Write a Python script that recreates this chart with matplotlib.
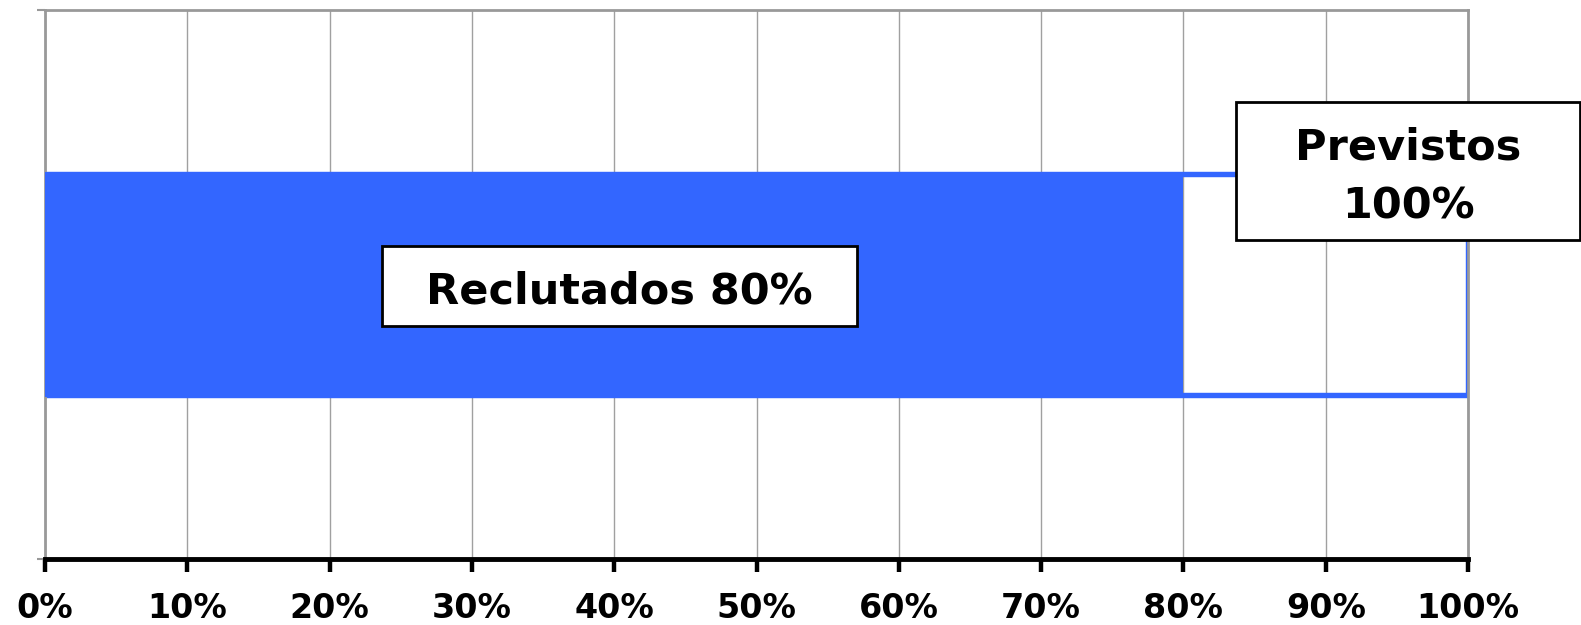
import matplotlib
matplotlib.use("Agg")
import matplotlib.pyplot as plt
from matplotlib.patches import Rectangle

# Data
series_names = ["Reclutados", "Previstos"]
series_values = [80, 100]          # percent
x_ticks = [0, 10, 20, 30, 40, 50, 60, 70, 80, 90, 100]
x_tick_labels = [f"{t}%" for t in x_ticks]

BLUE = "#3366FF"
GRAY = "#999999"

plt.rcParams['font.family'] = ['DejaVu Sans']

fig = plt.figure(figsize=(15.81, 6.25), dpi=100)
W, H = 1581, 625
ax_l, ax_r, ax_t, ax_b = 45, 1468, 10, 559
ax = fig.add_axes([ax_l / W, 1 - ax_b / H, (ax_r - ax_l) / W, (ax_b - ax_t) / H])

# grid
ax.set_xlim(0, 100)
ax.set_ylim(-0.5, 0.5)
ax.set_xticks(x_ticks)
ax.set_xticklabels(x_tick_labels, fontsize=24, fontweight='bold')
ax.grid(axis='x', color='#a0a0a0', linewidth=1.0, zorder=0)
ax.set_axisbelow(True)

# bars: target outline (no fill), then achieved fill on top
ax.barh([0], [series_values[1]], height=0.401, facecolor='none',
        edgecolor=BLUE, linewidth=3.9, zorder=2)
ax.barh([0], [series_values[0]], height=0.411, facecolor=BLUE,
        edgecolor='none', linewidth=0, zorder=3)

# spines
for s in ['top', 'right', 'left']:
    ax.spines[s].set_color(GRAY)
    ax.spines[s].set_linewidth(2)
ax.spines['bottom'].set_color('black')
ax.spines['bottom'].set_linewidth(3.5)
ax.spines['bottom'].set_zorder(5)

ax.tick_params(axis='x', direction='out', length=9, width=3.2, color='black',
               pad=15, labelcolor='black')
ax.set_yticks([-0.5, 0.5])
ax.set_yticklabels(["", ""])
ax.tick_params(axis='y', direction='out', length=6, width=1.5, color=GRAY)

# label boxes (axes-fraction coordinates)
def box(x0, x1, y0, y1):
    r = Rectangle((x0, y0), x1 - x0, y1 - y0, transform=ax.transAxes,
                  facecolor='white', edgecolor='black', linewidth=2,
                  clip_on=False, zorder=6)
    ax.add_patch(r)

box(0.2368, 0.5706, 0.4244, 0.5701)
ax.text(0.4037, 0.4663, f"{series_names[0]} {series_values[0]}%",
        transform=ax.transAxes, ha='center', va='baseline',
        fontsize=31, fontweight='bold', zorder=7)

box(0.8370, 1.0787, 0.5810, 0.8324)
ax.text(0.958, 0.7268, series_names[1], transform=ax.transAxes,
        ha='center', va='baseline', fontsize=31, fontweight='bold', zorder=7)
ax.text(0.958, 0.6211, f"{series_values[1]}%", transform=ax.transAxes,
        ha='center', va='baseline', fontsize=31, fontweight='bold', zorder=7)

fig.savefig("out.png", dpi=100)
